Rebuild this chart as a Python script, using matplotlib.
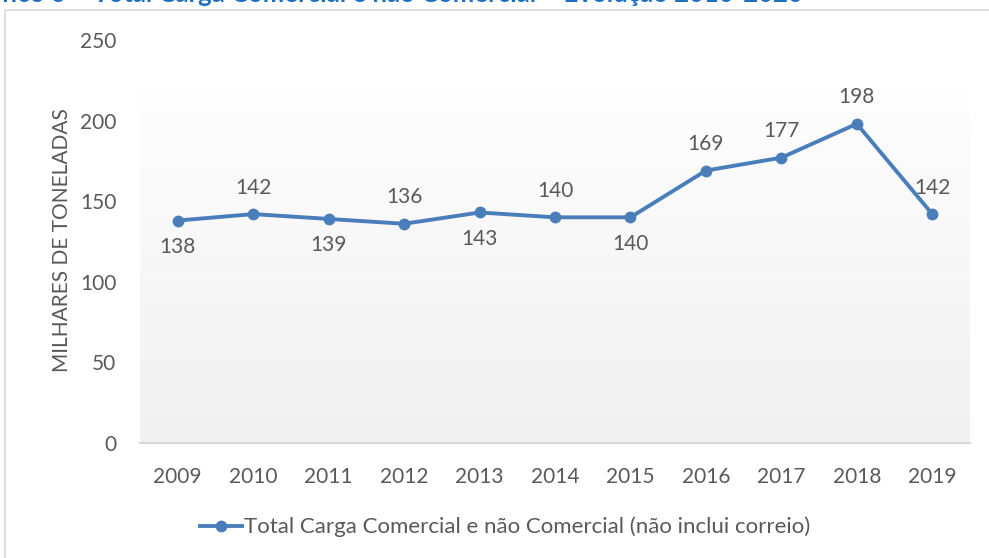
import matplotlib.pyplot as plt
import numpy as np
from matplotlib.patches import Rectangle

# data
years = ['2009', '2010', '2011', '2012', '2013', '2014', '2015', '2016', '2017', '2018', '2019']
toneladas = [138, 142, 139, 136, 143, 140, 140, 169, 177, 198, 142]
label_pos = ['below', 'above', 'below', 'above', 'below', 'above', 'below',
             'above', 'above', 'above', 'above']

title = 'Gráfico 6 – Total Carga Comercial e não Comercial – Evolução 2010-2020'
ylabel = 'MILHARES DE TONELADAS'
series_name = 'Total Carga Comercial e não Comercial (não inclui correio)'

plt.rcParams['font.family'] = ['Lato', 'DejaVu Sans']
text_color = '#595959'
line_color = '#4a7ebb'

fig = plt.figure(figsize=(9.89, 5.58), dpi=100)

# chart area border and the title above it (clipped by the page edge, as in the source)
fig.patches.append(Rectangle((5 / 989, -0.1), 1.1, 1 - 10 / 558 + 0.1,
                             transform=fig.transFigure, fill=False,
                             edgecolor='#d9d9d9', linewidth=1.2))
fig.text(803 / 989, 1 - 1.5 / 558, title, color='#1f6fc0', fontsize=18.5,
         fontweight='bold', ha='right', va='baseline')

ax = fig.add_axes([140 / 989, 1 - 443 / 558, 830 / 989, 403 / 558])
x = np.arange(len(years))

# plot area gradient (white at top -> light grey at bottom)
grad = np.linspace(0, 1, 256).reshape(-1, 1)
top_c = np.array([0.995, 0.995, 0.995])
bot_c = np.array([0.945, 0.945, 0.945])
img = top_c + (bot_c - top_c) * grad
ax.imshow(img[:, None, :].repeat(2, axis=1), extent=[0, 1, 0, (443 - 92) / 403],
          transform=ax.transAxes, aspect='auto', zorder=0)

ax.plot(x, toneladas, color=line_color, linewidth=2.8, marker='o',
        markersize=7.5, label=series_name, zorder=3)

for xi, v, pos in zip(x, toneladas, label_pos):
    dy = 19 if pos == 'above' else -19
    ax.annotate(str(v), (xi, v), xytext=(0, dy), textcoords='offset points',
                ha='center', va='center', fontsize=15, color=text_color)

ax.set_xlim(-0.5, len(years) - 0.5)
ax.set_ylim(0, 250)
ax.set_yticks(range(0, 251, 50))
ax.set_xticks(x)
ax.set_xticklabels(years)
ax.tick_params(axis='both', length=0, labelsize=15, labelcolor=text_color)
ax.tick_params(axis='y', pad=17)
ax.tick_params(axis='x', pad=17)

# axis title placed directly in figure coordinates
fig.text(62 / 989, 1 - 240 / 558, ylabel, rotation=90, fontsize=15,
         color=text_color, ha='center', va='center')

for s in ['top', 'right', 'left']:
    ax.spines[s].set_visible(False)
ax.spines['bottom'].set_color('#d9d9d9')
ax.spines['bottom'].set_linewidth(1.5)
ax.set_facecolor('none')

leg = fig.legend(loc='center', bbox_to_anchor=(505 / 989, 1 - 527 / 558),
                 frameon=False, fontsize=16, handlelength=1.9, handletextpad=0.1,
                 labelcolor=text_color)

fig.savefig('out.png', dpi=100)
